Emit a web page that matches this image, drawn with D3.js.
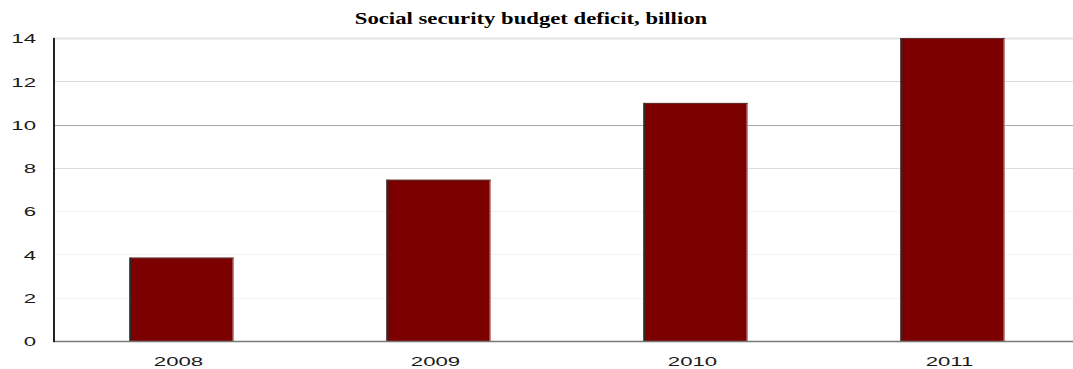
<!DOCTYPE html>
<html>
<head>
<meta charset="utf-8">
<script src="https://cdn.jsdelivr.net/npm/d3@7"></script>
<style>
  body { margin: 0; background: #fff; }
  .tick text { font-family: "Liberation Sans", Arial, sans-serif; font-size: 12px; fill: #1a1a1a; }
  .title { font-family: "Liberation Serif", "Times New Roman", serif; font-weight: bold; font-size: 16px; fill: #000; }
</style>
</head>
<body>
<script>
var years = ["2008", "2009", "2010", "2011"];
var deficit = [3.85, 7.45, 11.0, 14.0];
var yTicks = [0, 2, 4, 6, 8, 10, 12, 14];
var gridColours = ["#777", "#f3f3f3", "#f3f3f3", "#f3f3f3", "#dcdcdc", "#a8a8a8", "#d9d9d9", "#e2e2e2"];

var W = 1073, H = 369;
var plotLeft = 53, plotTop = 38, plotBottom = 341;
var stretch = 1.85; // the reference is squeezed vertically, so its text looks wide

var data = years.map(function(d, i) { return {year: d, val: deficit[i]}; });

var svg = d3.select("body").append("svg")
    .attr("width", W)
    .attr("height", H);

var x = d3.scaleBand()
    .domain(years)
    .range([plotLeft, plotLeft + 1028])
    .paddingInner(0.595)
    .paddingOuter(0.2975);

var y = d3.scaleLinear()
    .domain([0, 14])
    .range([plotBottom, plotTop]);

svg.append("text")
    .attr("class", "title")
    .attr("transform", "translate(531,24) scale(1.42,1)")
    .attr("text-anchor", "middle")
    .text("Social security budget deficit, billion");

// grid lines
svg.selectAll(".grid")
    .data(yTicks)
    .enter().append("line")
    .attr("class", "grid")
    .attr("x1", plotLeft)
    .attr("x2", W)
    .attr("y1", function(d) { return Math.round(y(d)) + 0.5; })
    .attr("y2", function(d) { return Math.round(y(d)) + 0.5; })
    .style("stroke", function(d, i) { return gridColours[i]; })
    .style("stroke-width", function(d) { return d == 14 ? 2 : 1; });

// y axis labels
var yAxis = d3.axisLeft(y).tickValues(yTicks).tickSize(0);
var gy = svg.append("g")
    .attr("transform", "translate(" + plotLeft + ",0)")
    .call(yAxis);
gy.select(".domain").remove();
gy.selectAll("text")
    .attr("x", -17 / stretch)
    .attr("dy", "0.4em")
    .attr("transform", "scale(" + stretch + ",1)");

// bars
var bars = svg.selectAll(".bar")
    .data(data)
    .enter().append("g")
    .attr("class", "bar");

bars.append("rect")
    .attr("x", function(d) { return x(d.year); })
    .attr("y", function(d) { return y(d.val); })
    .attr("width", x.bandwidth())
    .attr("height", function(d) { return plotBottom - y(d.val); })
    .attr("fill", "#7d0000");

bars.append("line")
    .attr("x1", function(d) { return x(d.year) + 1; })
    .attr("x2", function(d) { return x(d.year) + 1; })
    .attr("y1", function(d) { return y(d.val); })
    .attr("y2", plotBottom)
    .style("stroke", "#2a2a2a")
    .style("stroke-width", 2);

bars.append("line")
    .attr("x1", function(d) { return x(d.year) + x.bandwidth() - 0.5; })
    .attr("x2", function(d) { return x(d.year) + x.bandwidth() - 0.5; })
    .attr("y1", function(d) { return y(d.val); })
    .attr("y2", plotBottom)
    .style("stroke", "#c99a9a")
    .style("stroke-width", 1);

bars.append("line")
    .attr("x1", function(d) { return x(d.year); })
    .attr("x2", function(d) { return x(d.year) + x.bandwidth(); })
    .attr("y1", function(d) { return y(d.val) + 0.5; })
    .attr("y2", function(d) { return y(d.val) + 0.5; })
    .style("stroke", "#5a3030")
    .style("stroke-width", 1);

// baseline
svg.append("line")
    .attr("x1", plotLeft)
    .attr("x2", W)
    .attr("y1", plotBottom + 0.5)
    .attr("y2", plotBottom + 0.5)
    .style("stroke", "#777")
    .style("stroke-width", 1.5);

// x axis labels
var xAxis = d3.axisBottom(x).tickSize(0).tickPadding(16);
var gx = svg.append("g")
    .attr("transform", "translate(0," + plotBottom + ")")
    .call(xAxis);
gx.select(".domain").remove();
gx.selectAll("text")
    .attr("x", -3 / stretch)
    .attr("transform", "scale(" + stretch + ",1)");

// left axis line
svg.append("line")
    .attr("x1", plotLeft + 1)
    .attr("x2", plotLeft + 1)
    .attr("y1", plotTop)
    .attr("y2", plotBottom + 1)
    .style("stroke", "#222")
    .style("stroke-width", 2);
</script>
</body>
</html>
